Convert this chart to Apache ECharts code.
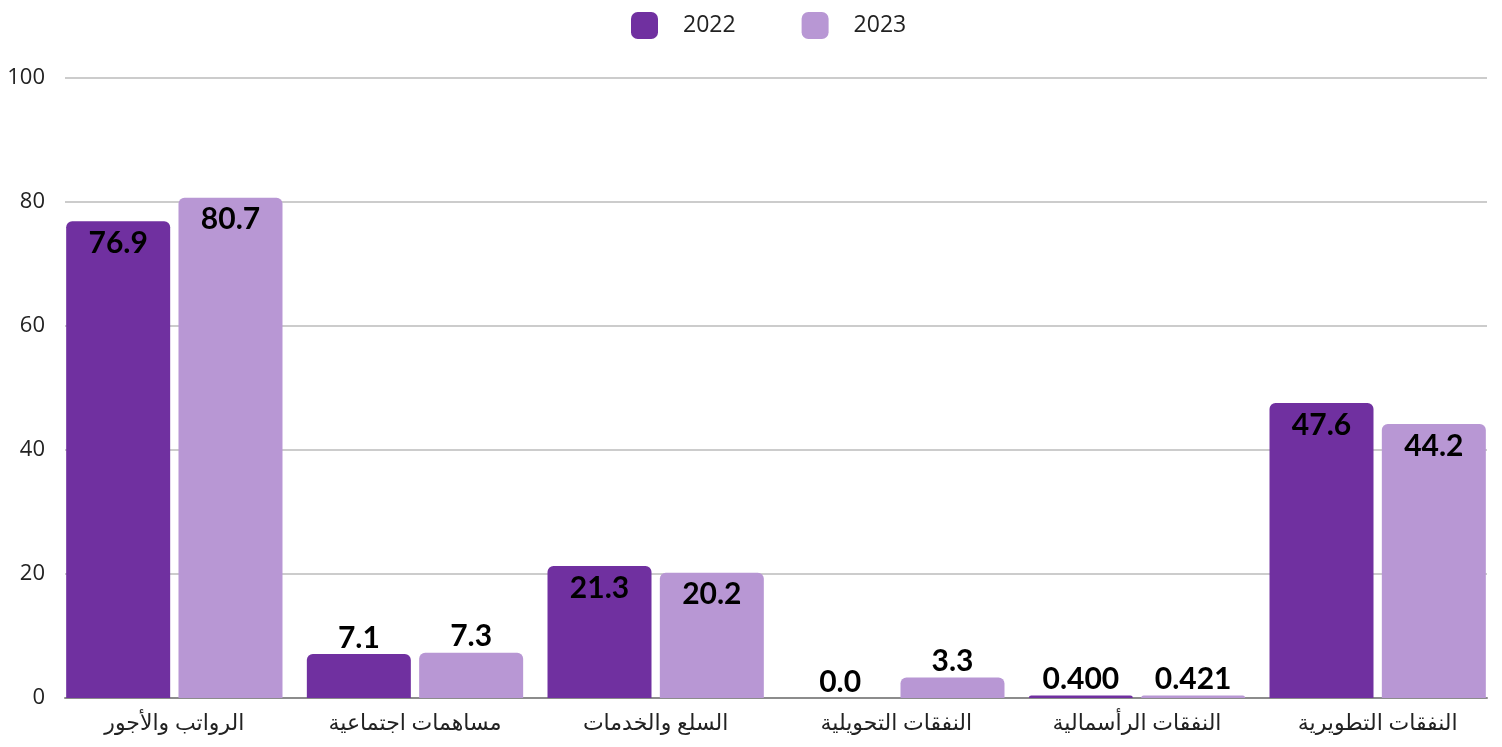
<!DOCTYPE html>
<html><head><meta charset="utf-8">
<script src="https://cdn.jsdelivr.net/npm/echarts@6/dist/echarts.min.js"></script>
<style>html,body{margin:0;padding:0;background:#fff}#c{width:1502px;height:747px}</style>
</head><body><div id="c"></div>
<script>
const categories = ['الرواتب والأجور','مساهمات اجتماعية','السلع والخدمات','النفقات التحويلية','النفقات الرأسمالية','النفقات التطويرية'];
const seriesNames = ['2022','2023'];
const values2022 = [76.9, 7.1, 21.3, 0.0, 0.400, 47.6];
const values2023 = [80.7, 7.3, 20.2, 3.3, 0.421, 44.2];
const labels2022 = ['76.9','7.1','21.3','0.0','0.400','47.6'];
const labels2023 = ['80.7','7.3','20.2','3.3','0.421','44.2'];
const yTicks = [0,20,40,60,80,100];
const colors = ['#7030a0','#b897d4'];

const labelBase = {fontFamily:'Lato, "Open Sans", sans-serif', fontWeight:'bold', fontSize:30, color:'#000'};
function mkData(vals, labs){
  return vals.map((v,i)=>({
    value:v,
    label: Object.assign({show:true, formatter:labs[i], position: v>15?'insideTop':'top', distance: v>15?7:1}, labelBase)
  }));
}
const chart = echarts.init(document.getElementById('c'));
chart.setOption({
  animation:false,
  legend:{top:7,left:626,itemWidth:27,itemHeight:27,itemGap:66,icon:'roundRect',
    data:seriesNames,
    textStyle:{fontFamily:'"Open Sans", sans-serif',fontSize:23,color:'#222',padding:[0,0,0,20]}},
  grid:[
    {left:65,right:15,top:78,bottom:49,containLabel:false},
    {left:54,right:4,top:78,bottom:49,containLabel:false}
  ],
  xAxis:[
    {gridIndex:0,type:'category',data:categories,axisLine:{show:true,lineStyle:{color:'#8c8c8c',width:2}},axisTick:{show:false},axisLabel:{show:false}},
    {gridIndex:1,type:'category',data:categories,axisLine:{show:false},axisTick:{show:false},
      axisLabel:{fontFamily:'"Noto Sans", "DejaVu Sans", sans-serif',fontSize:22,color:'#222',margin:15}}
  ],
  yAxis:[
    {gridIndex:0,type:'value',min:yTicks[0],max:yTicks[yTicks.length-1],interval:20,
      axisLine:{show:false},axisTick:{show:false},
      axisLabel:{fontFamily:'"Open Sans", sans-serif',fontSize:22,color:'#222',margin:20},
      splitLine:{lineStyle:{color:'#cccccc',width:2}}},
    {gridIndex:1,type:'value',min:0,max:100,interval:20,show:false,splitLine:{show:false}}
  ],
  series:[
    {name:seriesNames[0],type:'bar',xAxisIndex:1,yAxisIndex:1,barWidth:104,barGap:'8%',
      itemStyle:{color:colors[0],borderRadius:[6,6,0,0]},data:mkData(values2022,labels2022)},
    {name:seriesNames[1],type:'bar',xAxisIndex:1,yAxisIndex:1,barWidth:104,barGap:'8%',
      itemStyle:{color:colors[1],borderRadius:[6,6,0,0]},data:mkData(values2023,labels2023)}
  ]
});
</script></body></html>
